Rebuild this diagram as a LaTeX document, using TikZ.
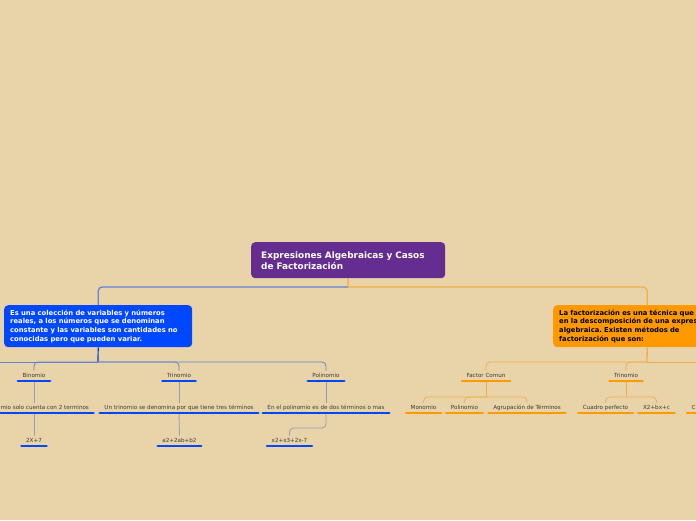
\documentclass[tikz,border=0pt]{standalone}
\usepackage{fontspec}
\setmainfont{DejaVu Sans}
\frenchspacing
\definecolor{fondo}{RGB}{232,212,168}
\definecolor{morado}{RGB}{102,45,145}
\definecolor{azul}{RGB}{0,72,255}
\definecolor{azulclaro}{RGB}{96,132,214}
\definecolor{gris}{RGB}{150,158,186}
\definecolor{naranja}{RGB}{255,153,0}
\definecolor{naranjaclaro}{RGB}{243,174,74}
\definecolor{texto}{RGB}{58,58,58}
\begin{document}
\begin{tikzpicture}[x=1pt, y=-1pt,
    raiz/.style={fill=morado, text=white, rounded corners=4pt, anchor=north west, align=left,
        text width=174pt, inner xsep=10pt, minimum width=194pt, minimum height=36pt,
        font=\fontsize{8.9}{11}\selectfont\bfseries},
    caja/.style={rounded corners=4pt, anchor=north west, align=left, text width=176pt,
        inner xsep=6pt, minimum width=188pt, minimum height=42pt,
        font=\fontsize{6.8}{8.6}\selectfont\bfseries},
    lbl/.style={anchor=south, text=texto, inner xsep=4.5pt, inner ysep=2.5pt,
        text height=4pt, text depth=1pt, font=\fontsize{5.6}{6}\selectfont},
    bul/.style={draw=azul, line width=2.6pt, line cap=round},
    oul/.style={draw=naranja, line width=2.6pt, line cap=round},
    bline/.style={draw=azulclaro, line width=1.3pt},
    btrunk/.style={draw=azul!85!black, line width=1.2pt},
    bthin/.style={draw=azulclaro, line width=0.8pt},
    gline/.style={draw=gris, line width=0.8pt},
    oline/.style={draw=naranjaclaro, line width=1.3pt},
    othin/.style={draw=naranjaclaro, line width=0.8pt}]
    % Hintergrund
    \useasboundingbox (0,0) rectangle (696,520);
    \fill[fondo] (0,0) rectangle (696,520);
    % Hauptknoten
    \node[raiz] (raiz) at (251,242) {Expresiones Algebraicas y Casos\\de Factorización};
    \node[caja, fill=azul, text=white] (def) at (4,305)
        {Es una colección de variables y números\\reales, a los números que se denominan\\constante y las variables son cantidades no\\conocidas pero que pueden variar.};
    \node[caja, fill=naranja, text=black] (tec) at (553,305)
        {La factorización es una técnica que consiste\\en la descomposición de una expresión\\algebraica. Existen métodos de\\factorización que son:};
    % Verzweigungen
    \coordinate (tj) at (348,287);
    \coordinate (bj) at (98,362);
    \coordinate (bL) at (-20,362);
    \coordinate (oj) at (647,362);
    \coordinate (oR) at (720,362);
    \coordinate (fj) at (486,397);
    \coordinate (ttj) at (626,397);
    % linker Zweig
    \node[lbl] (bin) at (34,381) {Binomio};
    \node[lbl] (tri) at (179,381) {Trinomio};
    \node[lbl] (pol) at (326,381) {Polinomio};
    \node[lbl] (bind) at (34,413) {Un binomio solo cuenta con 2 terminos};
    \node[lbl] (trid) at (179,413) {Un trinomio se denomina por que tiene tres términos};
    \node[lbl] (pold) at (326,413) {En el polinomio es de dos términos o mas};
    \node[lbl] (bine) at (34,446) {2X+7};
    \node[lbl] (trie) at (179.5,446) {a2+2ab+b2};
    \node[lbl] (pole) at (289.5,446) {x2+x3+2x-7};
    % rechter Zweig
    \node[lbl] (fac) at (486,381) {Factor Comun};
    \node[lbl] (otri) at (626,381) {Trinomio};
    \node[lbl] (mono) at (423.5,413) {Monomio};
    \node[lbl] (opol) at (464.5,413) {Polinomio};
    \node[lbl] (agr) at (527,413) {Agrupación de Términos};
    \node[lbl] (cuad) at (605.5,413) {Cuadro perfecto};
    \node[lbl] (xbc) at (656.5,413) {X2+bx+c};
    \node[lbl, anchor=south west] (cubo) at (687,413) {Cubo perfecto};
    % Verbindungen
    \draw[oline] (raiz.south) -- (tj);
    \draw[bline, rounded corners=4pt] (tj) -| (def.north);
    \draw[oline, rounded corners=4pt] (tj) -| (tec.north);
    \draw[btrunk] (def.south) -- (bj);
    \draw[bthin] (bL) -- (bj);
    \foreach \n in {bin,tri,pol}
        \draw[bthin, rounded corners=4pt] (bj) -| (\n.north);
    \draw[gline] (bin.south) -- (bind.north);
    \draw[gline] (bind.south) -- (bine.north);
    \draw[gline] (tri.south) -- (trid.north);
    \draw[gline] (trid.south) -- (trie.north);
    \draw[gline] (pol.south) -- (pold.north);
    \draw[gline, rounded corners=4pt] (pold.south) -- ++(0,15) -| (pole.north);
    \draw[oline] (tec.south) -- (oj);
    \draw[othin] (oj) -- (oR);
    \foreach \n in {fac,otri}
        \draw[othin, rounded corners=4pt] (oj) -| (\n.north);
    \draw[othin] (fac.south) -- (fj);
    \foreach \n in {mono,opol,agr}
        \draw[othin, rounded corners=4pt] (fj) -| (\n.north);
    \draw[othin] (otri.south) -- (ttj);
    \foreach \n in {cuad,xbc}
        \draw[othin, rounded corners=4pt] (ttj) -| (\n.north);
    % Unterstreichungen
    \foreach \n in {bin,tri,pol,bind,trid,pold,bine,trie,pole}
        \draw[bul] (\n.south west) -- (\n.south east);
    \foreach \n in {fac,otri,mono,opol,agr,cuad,xbc,cubo}
        \draw[oul] (\n.south west) -- (\n.south east);
\end{tikzpicture}
\end{document}
